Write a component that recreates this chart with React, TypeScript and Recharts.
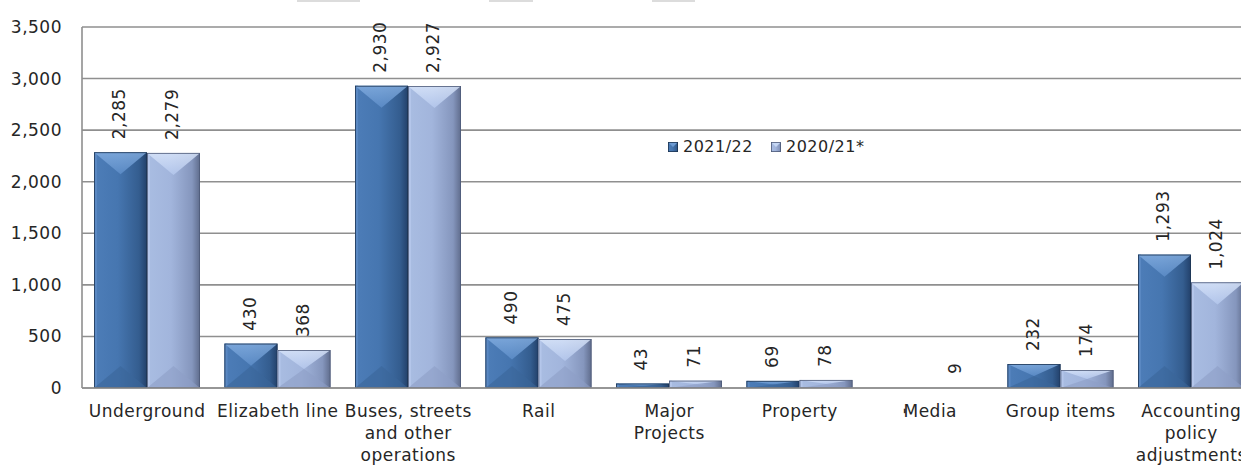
import { BarChart, Bar, XAxis, YAxis, CartesianGrid, LabelList } from 'recharts';

const categories = [
  'Underground',
  'Elizabeth line',
  'Buses, streets\nand other\noperations',
  'Rail',
  'Major\nProjects',
  'Property',
  'Media',
  'Group items',
  'Accounting\npolicy\nadjustments',
];
const fy2122 = [2285, 430, 2930, 490, 43, 69, 0, 232, 1293];
const fy2021 = [2279, 368, 2927, 475, 71, 78, 9, 174, 1024];
const yTicks = [0, 500, 1000, 1500, 2000, 2500, 3000, 3500];

const data = categories.map((name, i) => ({ name, fy2122: fy2122[i], fy2021: fy2021[i] }));

const FONT = '"DejaVu Sans", sans-serif';
const TEXT = '#262626';

const palette: Record<string, { id: string; top: string; bottom: string; edge: string; left: string }> = {
  fy2122: { id: 'dk', top: '#6d9bd3', bottom: '#3b6699', edge: '#1d3553', left: '#5a88c2' },
  fy2021: { id: 'lt', top: '#c6d7f4', bottom: '#8d9fc6', edge: '#4e5a78', left: '#b4c6ea' },
};

const fmt = (v: number) => (v === 0 ? '-' : v.toLocaleString('en-GB'));

// bevelled 3D-looking bar like the Office chart style
function BevelBar(props: any) {
  const { x, y, width: w, height: h, dataKey } = props;
  if (!h || h <= 1) return null;
  const c = palette[dataKey];
  const d = Math.min(22, h / 2);
  const e = 3;
  return (
    <g>
      <rect x={x} y={y} width={w} height={h} fill={`url(#body-${c.id})`} />
      <polygon points={`${x},${y} ${x + e},${y} ${x + e},${y + h} ${x},${y + h}`} fill={c.left} />
      <polygon
        points={`${x},${y} ${x + w},${y} ${x + w / 2},${y + d}`}
        fill={`url(#top-${c.id})`}
        opacity={0.8}
      />
      <polygon
        points={`${x},${y + h} ${x + w},${y + h} ${x + w / 2},${y + h - d}`}
        fill={c.bottom}
        opacity={0.6}
      />
      <rect x={x + 0.4} y={y + 0.4} width={w - 0.8} height={h - 0.8} fill="none" stroke={c.edge} strokeWidth={0.8} />
    </g>
  );
}

function ValueLabel(props: any) {
  const { x, y, width, value } = props;
  const cx = x + width / 2;
  if (!value) {
    // zero value: the dash lands on top of the category label, as in the source
    return (
      <text x={cx} y={411} fill={TEXT} fontSize={17} fontFamily={FONT} textAnchor="middle"
        dominantBaseline="middle" transform={`rotate(-90, ${cx}, 411)`}>
        {fmt(value)}
      </text>
    );
  }
  const ty = y - 13;
  return (
    <text x={cx} y={ty} fill={TEXT} fontSize={17} fontFamily={FONT} letterSpacing={0.5}
      textAnchor="start" dominantBaseline="middle" transform={`rotate(-90, ${cx}, ${ty})`}>
      {fmt(value)}
    </text>
  );
}

function CategoryTick({ x, y, payload }: any) {
  const lines = String(payload.value).split('\n');
  return (
    <text x={x} y={y} fill={TEXT} fontSize={17} fontFamily={FONT} letterSpacing={0.5} textAnchor="middle">
      {lines.map((l, i) => (
        <tspan key={i} x={x} dy={i === 0 ? 29 : 22}>{l}</tspan>
      ))}
    </text>
  );
}

function LegendBox() {
  const items = [
    { label: '2021/22', key: 'fy2122' },
    { label: '2020/21*', key: 'fy2021' },
  ];
  return (
    <div style={{ position: 'absolute', left: 668, top: 137, display: 'flex', gap: 18, fontFamily: FONT, fontSize: 16, color: TEXT, letterSpacing: 0.5 }}>
      {items.map(it => (
        <span key={it.key} style={{ display: 'flex', alignItems: 'center', gap: 5 }}>
          <svg width={10} height={10}>
            <rect x={0} y={0} width={10} height={10} fill={`url(#body-${palette[it.key].id})`} />
            <polygon points="0,0 10,0 5,5" fill={palette[it.key].top} />
            <rect x={0.4} y={0.4} width={9.2} height={9.2} fill="none" stroke={palette[it.key].edge} strokeWidth={0.8} />
          </svg>
          {it.label}
        </span>
      ))}
    </div>
  );
}

export default function App() {
  return (
    <div style={{ position: 'fixed', left: 0, top: 0, width: 1241, height: 465, overflow: 'hidden', background: '#fff' }}>
      {/* cropped bits of something above the chart */}
      <div style={{ position: 'absolute', left: 297, top: 0, width: 63, height: 2, background: '#dcdcdc' }} />
      <div style={{ position: 'absolute', left: 489, top: 0, width: 44, height: 2, background: '#dcdcdc' }} />
      <div style={{ position: 'absolute', left: 652, top: 0, width: 43, height: 2, background: '#dcdcdc' }} />
      <BarChart
        width={1270}
        height={465}
        data={data}
        margin={{ top: 27, right: 13.5, left: 0, bottom: 0 }}
        barCategoryGap={12}
        barGap={0}
      >
        <defs>
          <linearGradient id="body-dk" x1="0" y1="0" x2="1" y2="0">
            <stop offset="0" stopColor="#4d7db8" />
            <stop offset="0.45" stopColor="#4676b0" />
            <stop offset="0.85" stopColor="#345d8f" />
            <stop offset="1" stopColor="#22406a" />
          </linearGradient>
          <linearGradient id="top-dk" x1="0" y1="0" x2="0" y2="1">
            <stop offset="0" stopColor="#86b0e2" />
            <stop offset="1" stopColor="#5f8fca" />
          </linearGradient>
          <linearGradient id="body-lt" x1="0" y1="0" x2="1" y2="0">
            <stop offset="0" stopColor="#a9bde2" />
            <stop offset="0.45" stopColor="#a2b5dc" />
            <stop offset="0.85" stopColor="#8596bd" />
            <stop offset="1" stopColor="#5f6c8c" />
          </linearGradient>
          <linearGradient id="top-lt" x1="0" y1="0" x2="0" y2="1">
            <stop offset="0" stopColor="#dbe7fb" />
            <stop offset="1" stopColor="#b6c9ee" />
          </linearGradient>
        </defs>
        <CartesianGrid vertical={false} stroke="#8f8f8f" strokeWidth={1.6} />
        <XAxis
          dataKey="name"
          interval={0}
          height={77}
          tickLine={false}
          tickSize={0}
          tickMargin={0}
          stroke="#8f8f8f"
          strokeWidth={1.6}
          tick={<CategoryTick />}
        />
        <YAxis
          width={82}
          domain={[0, 3500]}
          ticks={yTicks}
          tickLine={false}
          tickSize={0}
          tickMargin={20}
          stroke="#8f8f8f"
          strokeWidth={1.6}
          tickFormatter={(v: number) => v.toLocaleString('en-GB')}
          tick={{ fill: TEXT, fontSize: 17, fontFamily: FONT, letterSpacing: 0.5 }}
        />
        <Bar dataKey="fy2122" name="2021/22" shape={<BevelBar />} isAnimationActive={false}>
          <LabelList dataKey="fy2122" content={<ValueLabel />} />
        </Bar>
        <Bar dataKey="fy2021" name="2020/21*" shape={<BevelBar />} isAnimationActive={false}>
          <LabelList dataKey="fy2021" content={<ValueLabel />} />
        </Bar>
      </BarChart>
      <LegendBox />
    </div>
  );
}
